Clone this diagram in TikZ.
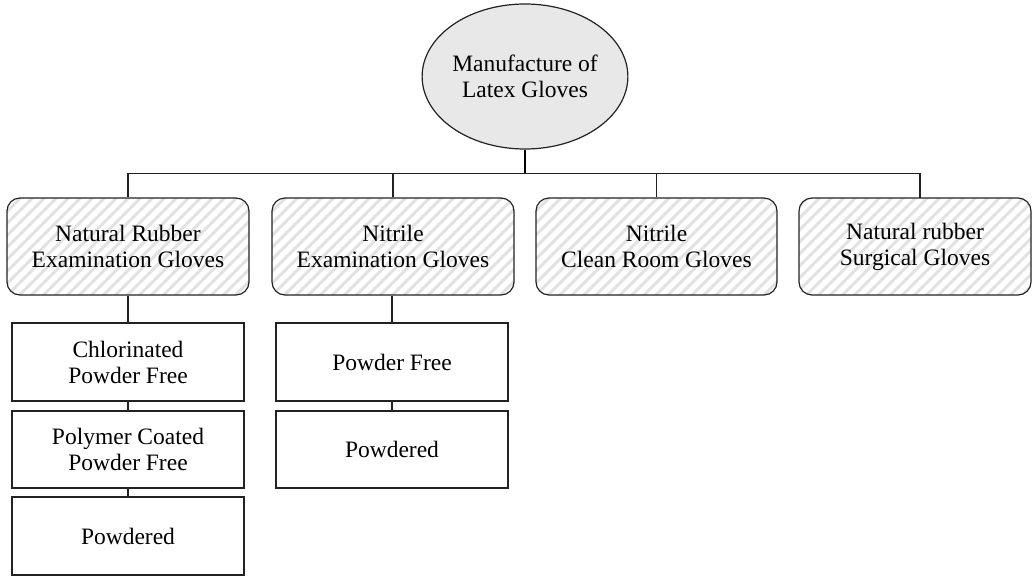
\documentclass[tikz,border=0pt]{standalone}
\usepackage{fontspec}
\setmainfont{Liberation Serif}
\usetikzlibrary{shapes.geometric}
\definecolor{ellfill}{HTML}{E8E8E8}
\definecolor{hatchc}{HTML}{E2E2E2}
\definecolor{linec}{HTML}{222222}
\begin{document}
\begin{tikzpicture}[x=1pt,y=-1pt,
  txt/.style={font=\fontsize{23.5}{26}\selectfont, align=center, inner sep=0pt},
  hatchbox/.style={txt, draw=linec, line width=1.2pt, rounded corners=13pt,
    minimum width=242pt, minimum height=97pt,
    path picture={\foreach \k in {-300,-288,...,300} {
      \draw[hatchc, line width=3pt] ([xshift=\k pt]path picture bounding box.center) ++(-150pt,-150pt) -- ++(300pt,300pt);}}},
  leafbox/.style={txt, draw=linec, line width=1.2pt, fill=white,
    minimum width=232pt, minimum height=77pt},
  conn/.style={draw=linec, line width=1.2pt},
  stem/.style={draw=black, line width=2.2pt}
]
\useasboundingbox (0,0) rectangle (1033,576);
\node[txt, ellipse, draw=linec, line width=1.2pt, fill=ellfill, minimum width=204pt, minimum height=145pt] (root) at (525,76.5) {Manufacture of\\Latex Gloves};

\node[hatchbox] (b1) at (128,246.5) {Natural Rubber\\Examination Gloves};
\node[hatchbox] (b2) at (393,246.5) {Nitrile\\Examination Gloves};
\node[hatchbox, minimum width=241pt] (b3) at (656.5,246.5) {Nitrile\\Clean Room Gloves};
\node[hatchbox, minimum width=232pt] (b4) at (915,246.5) {Natural rubber\\Surgical Gloves};

\node[leafbox, minimum height=78pt] (c1) at (128,362) {Chlorinated\\Powder Free};
\node[leafbox] (c2) at (128,449.5) {Polymer Coated\\Powder Free};
\node[leafbox, minimum height=78pt] (c3) at (128,536) {Powdered};

\node[leafbox, minimum height=78pt] (d1) at (392,362) {Powder Free};
\node[leafbox] (d2) at (392,449.5) {Powdered};

\coordinate (j) at (525,173.5);
\coordinate (b4c) at (920,198);

\draw[stem] (root.south) -- (j);
\draw[conn] (b1.north) |- (j);
\draw[conn] (b2.north) |- (j);
\draw[conn] (b3.north) |- (j);
\draw[conn] (b4c) |- (j);

\draw[conn] (b1.south) -- (c1.north);
\draw[conn] (c1.south) -- (c2.north);
\draw[conn] (c2.south) -- (c3.north);
\draw[conn] (d1.north |- b2.south) -- (d1.north);
\draw[conn] (d1.south) -- (d2.north);
\end{tikzpicture}
\end{document}
